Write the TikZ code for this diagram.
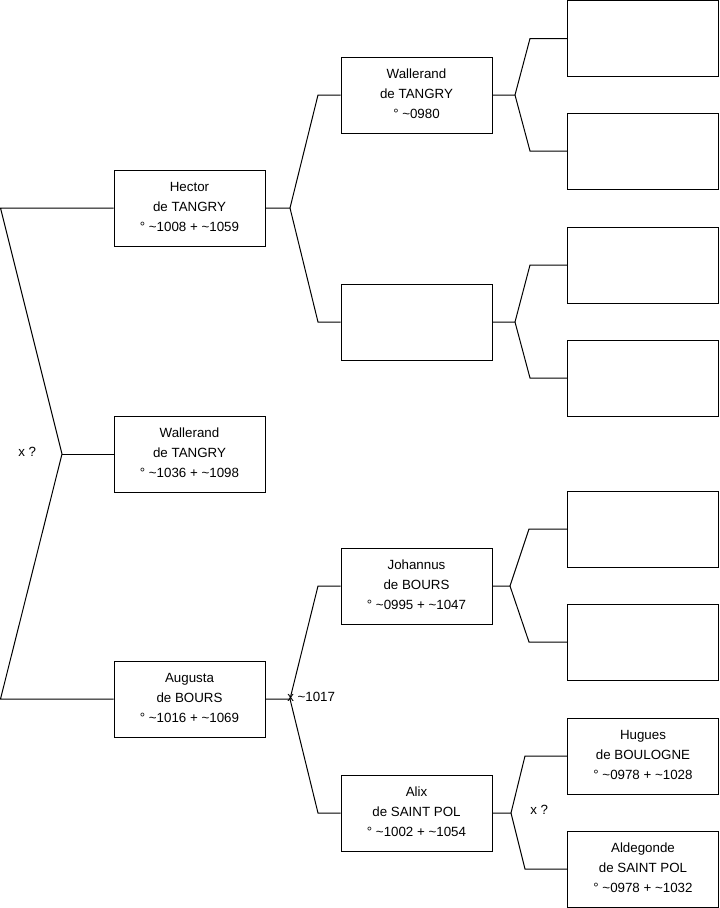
\documentclass[tikz,border=0pt]{standalone}
\usepackage{fontspec}
\setmainfont{Liberation Sans}
\begin{document}
\begin{tikzpicture}[x=0.75pt,y=-0.75pt,
  person/.style={draw=black, line width=0.75pt, minimum width=113.25pt, minimum height=57pt, inner sep=0pt, align=center, font=\fontsize{10}{15}\selectfont},
  conn/.style={draw=black, line width=0.75pt},
  lbl/.style={anchor=west, inner sep=0pt, font=\fontsize{10}{12}\selectfont}]
\useasboundingbox (0,0) rectangle (719,908);
% column 1
\node[person] (hector) at (189.5,208) {Hector\\de TANGRY\\° \textasciitilde1008 + \textasciitilde1059\vphantom{g}};
\node[person] (wall2) at (189.5,454) {Wallerand\\de TANGRY\\° \textasciitilde1036 + \textasciitilde1098\vphantom{g}};
\node[person] (augusta) at (189.5,699) {Augusta\\de BOURS\\° \textasciitilde1016 + \textasciitilde1069\vphantom{g}};
% column 2
\node[person] (wall1) at (416.5,95) {Wallerand\\de TANGRY\\° \textasciitilde0980\vphantom{g}};
\node[person] (e2) at (416.5,322) {};
\node[person] (johannus) at (416.5,586) {Johannus\\de BOURS\\° \textasciitilde0995 + \textasciitilde1047\vphantom{g}};
\node[person] (alix) at (416.5,813) {Alix\\de SAINT POL\\° \textasciitilde1002 + \textasciitilde1054\vphantom{g}};
% column 3
\node[person] (g1) at (643,38.5) {};
\node[person] (g2) at (643,151) {};
\node[person] (g3) at (643,265) {};
\node[person] (g4) at (643,378) {};
\node[person] (g5) at (643,529) {};
\node[person] (g6) at (643,642) {};
\node[person] (hugues) at (643,756) {Hugues\\de BOULOGNE\\° \textasciitilde0978 + \textasciitilde1028\vphantom{g}};
\node[person] (aldegonde) at (643,869) {Aldegonde\\de SAINT POL\\° \textasciitilde0978 + \textasciitilde1032\vphantom{g}};
% junctions
\coordinate (ltop) at (0.5,208);
\coordinate (lmid) at (62,454);
\coordinate (lbot) at (0.5,699);
\coordinate (jh) at (290,208);
\coordinate (jh1) at (318,95);
\coordinate (jh2) at (318,322);
\coordinate (ja) at (290,699);
\coordinate (ja1) at (318,586);
\coordinate (ja2) at (318,813);
\coordinate (jw) at (515,95);
\coordinate (jw1) at (530,38.5);
\coordinate (jw2) at (530,151);
\coordinate (je) at (515,322);
\coordinate (je1) at (530,265);
\coordinate (je2) at (530,378);
\coordinate (jj) at (510,586);
\coordinate (jj1) at (529,529);
\coordinate (jj2) at (529,642);
\coordinate (jx) at (511,813);
\coordinate (jx1) at (525,756);
\coordinate (jx2) at (525,869);
% connectors
\draw[conn] (hector.west) -- (ltop) -- (lmid) -- (lbot) -- (augusta.west);
\draw[conn] (lmid) -- (wall2.west);
\draw[conn] (hector.east) -- (jh) -- (jh1) -- (wall1.west);
\draw[conn] (jh) -- (jh2) -- (e2.west);
\draw[conn] (augusta.east) -- (ja) -- (ja1) -- (johannus.west);
\draw[conn] (ja) -- (ja2) -- (alix.west);
\draw[conn] (wall1.east) -- (jw) -- (jw1) -- (g1.west);
\draw[conn] (jw) -- (jw2) -- (g2.west);
\draw[conn] (e2.east) -- (je) -- (je1) -- (g3.west);
\draw[conn] (je) -- (je2) -- (g4.west);
\draw[conn] (johannus.east) -- (jj) -- (jj1) -- (g5.west);
\draw[conn] (jj) -- (jj2) -- (g6.west);
\draw[conn] (alix.east) -- (jx) -- (jx1) -- (hugues.west);
\draw[conn] (jx) -- (jx2) -- (aldegonde.west);
% labels
\node[lbl] (m1) at (18,452) {x ?};
\node[lbl] (m2) at (287,697) {x \textasciitilde1017};
\node[lbl] (m3) at (530,810) {x ?};
\end{tikzpicture}
\end{document}
